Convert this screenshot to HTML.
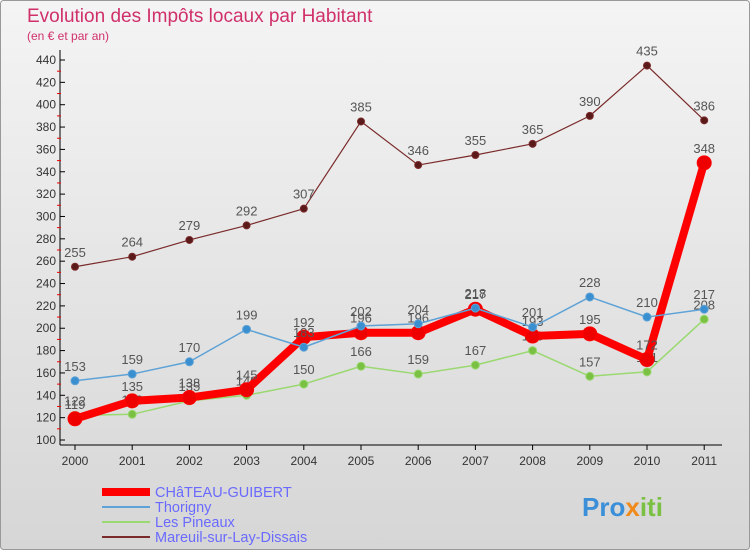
<!DOCTYPE html>
<html><head><meta charset="utf-8"><style>
body{margin:0;width:750px;height:550px;overflow:hidden;font-family:"Liberation Sans",sans-serif}
</style></head><body>
<svg width="750" height="550" xmlns="http://www.w3.org/2000/svg">
<defs><linearGradient id="bg" x1="0" y1="0" x2="0" y2="1"><stop offset="0" stop-color="#f4f4f4"/><stop offset="1" stop-color="#d6d6d6"/></linearGradient></defs>
<rect x="0.5" y="0.5" width="749" height="549" fill="url(#bg)" stroke="#999" rx="3"/>
<text x="27" y="22" font-size="19" fill="#d0306a">Evolution des Impôts locaux par Habitant</text>
<text x="27" y="40" font-size="12" fill="#d0306a">(en € et par an)</text>
<g id="axes"></g>
<g id="series"></g>
<g id="legend"></g>
<text x="582" y="516" font-size="26" font-weight="bold" fill="#3a8fd8">Pro<tspan fill="#f08a1c">x</tspan><tspan fill="#7ac143">iti</tspan></text>
</svg>
<script>
const years=["2000","2001","2002","2003","2004","2005","2006","2007","2008","2009","2010","2011"];
const yTicks=[100,120,140,160,180,200,220,240,260,280,300,320,340,360,380,400,420,440];
const chateau=[119,135,138,145,192,196,196,217,193,195,172,348];
const thorigny=[153,159,170,199,183,202,204,218,201,228,210,217];
const pineaux=[122,123,135,140,150,166,159,167,180,157,161,208];
const mareuil=[255,264,279,292,307,385,346,355,365,390,435,386];
const NS="http://www.w3.org/2000/svg";
function X(i){return 75+i*57.2;}
function Y(v){return 440-(v-100)*380/340;}
function mk(t,a,p){const e=document.createElementNS(NS,t);for(const k in a)e.setAttribute(k,a[k]);(p||document.querySelector('svg')).appendChild(e);return e;}
const ax=document.getElementById('axes');
let yl=mk('line',{x1:60,y1:50,x2:60,y2:445,stroke:'#000'},ax);


let xl=mk('line',{x1:60,y1:445,x2:722,y2:445,stroke:'#000'},ax);


yTicks.forEach((v,i)=>{
 mk('line',{x1:60,y1:Y(v),x2:65,y2:Y(v),stroke:'#000'},ax);
 if(i<yTicks.length-1) mk('line',{x1:57,y1:Y(v+10),x2:61,y2:Y(v+10),stroke:'#e00'},ax);
 const t=mk('text',{x:56,y:Y(v)+4,'font-size':12,'text-anchor':'end',fill:'#333'},ax);t.textContent=v;
 
 
});
years.forEach((y,i)=>{
 mk('line',{x1:X(i),y1:445,x2:X(i),y2:450,stroke:'#000'},ax);
 const t=mk('text',{x:X(i),y:465,'font-size':12,'text-anchor':'middle',fill:'#333'},ax);t.textContent=y;
 
 
});
const sg=document.getElementById('series');
function series(name,data,color,w,r,dot){
 const g=mk('g',{},sg);
 
 
 mk('polyline',{points:data.map((v,i)=>X(i)+','+Y(v)).join(' '),fill:'none',stroke:color,'stroke-width':w,'stroke-linejoin':'round'},g);
 data.forEach((v,i)=>{
  const c=mk('circle',{cx:X(i),cy:Y(v),r:r,fill:dot,stroke:color,'stroke-width':1},g);
  
  
  const t=mk('text',{x:X(i),y:Y(v)-10,'font-size':13,'text-anchor':'middle',fill:'#555'},g);t.textContent=v;
  
  
 });
}
series('mareuil',mareuil,'#7a2a2a',1.2,3.5,'#5a1a1a');
series('pineaux',pineaux,'#9ad870',1.5,4,'#7ac143');
series('chateau',chateau,'#ff0000',8,7,'#ee0000');
series('thorigny',thorigny,'#5ea2d6',1.5,4,'#3a8fd0');
const lg=document.getElementById('legend');
const items=[["CHâTEAU-GUIBERT","#ff0000",8],["Thorigny","#5ea2d6",2],["Les Pineaux","#9ad870",2],["Mareuil-sur-Lay-Dissais","#7a2a2a",2]];
items.forEach((it,i)=>{
 const y=492+i*15;
 const l=mk('line',{x1:102,y1:y,x2:150,y2:y,stroke:it[1],'stroke-width':it[2]},lg);
 
 
 const t=mk('text',{x:155,y:y+5,'font-size':14.5,fill:'#6a6aff'},lg);t.textContent=it[0];
 
 
});
</script>
</body></html>
